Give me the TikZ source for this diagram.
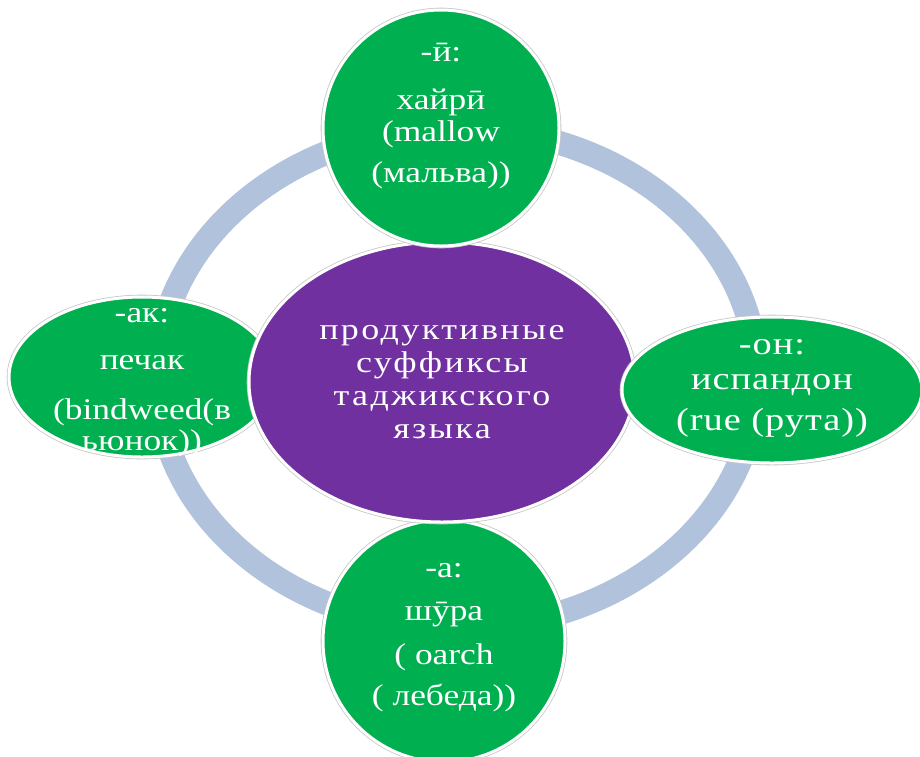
\documentclass[tikz,border=0pt]{standalone}
\usepackage{fontspec}
\newfontfamily\leaffont[FakeStretch=1.18]{Liberation Serif}
\newfontfamily\onfont[FakeStretch=1.2, LetterSpace=3]{Liberation Serif}
\newfontfamily\hubfont[FakeStretch=1.2, LetterSpace=8]{Liberation Serif}
\usetikzlibrary{shapes.geometric}

\definecolor{leafgreen}{HTML}{00B050}
\definecolor{hubpurple}{HTML}{7030A0}
\definecolor{ringblue}{HTML}{B0C2DC}

\begin{document}
\begin{tikzpicture}[
    x=1pt, y=-1pt,
    blob/.style={ellipse, draw=white, line width=3pt, inner sep=0pt,
        preaction={draw=black!22, line width=4.6pt}},
    leaf/.style={blob, fill=leafgreen},
    hub/.style={blob, fill=hubpurple},
    leaftext/.style={text=white, align=center, font=\leaffont\fontsize{30}{36}\selectfont},
    hubtext/.style={text=white, align=center, font=\hubfont\fontsize{30}{33}\selectfont},
]
\useasboundingbox (0,0) rectangle (920,756);

% ring behind everything
\draw[ringblue, line width=24pt] (457,378) ellipse [x radius=300, y radius=250];

\node[leaf, minimum width=266, minimum height=160] (ak) at (142,377) {};
\node[leaf, minimum width=242, minimum height=242] (a) at (444,641) {};
\node[hub, minimum width=386, minimum height=280] (hub) at (442,382) {};
\node[leaf, minimum width=236, minimum height=236] (ii) at (441,128) {};
\node[leaf, minimum width=300, minimum height=146] (on) at (772,390) {};

% texts
\node[hubtext] (hub-txt) at (442,382) {продуктивные\\ суффиксы\\ таджикского\\ языка};
\node[leaftext] (ii-txt) at (441,116) {-ӣ:\\[12pt] хайрӣ\\[-4pt] (mallow\\[5pt] (мальва))};
\node[leaftext] (ak-txt) at (142,383) {-ак:\\[11pt] печак\\[14pt] (bindweed(в\\[-5pt] ьюнок))};
\node[leaftext, font=\onfont\fontsize{32}{38}\selectfont] (on-txt) at (772,388) {-он:\\[-3pt] испандон\\[3pt] (rue (рута))};
\node[leaftext] (a-txt) at (444,638) {-а:\\[7pt] шӯра\\[8pt] ( oarch\\[5pt] ( лебеда))};
\end{tikzpicture}
\end{document}
